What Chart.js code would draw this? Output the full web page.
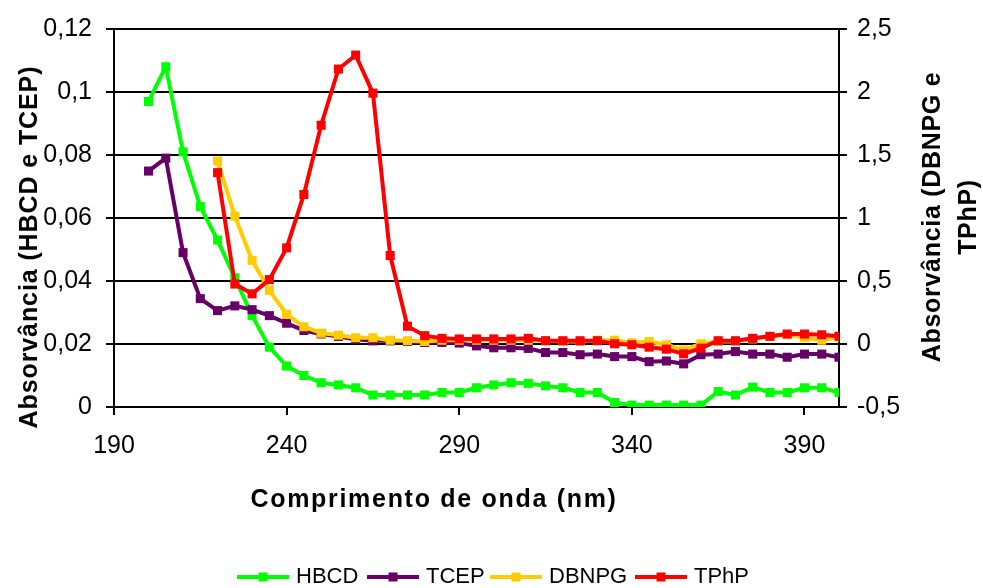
<!DOCTYPE html>
<html>
<head>
<meta charset="utf-8">
<title>Absorvância</title>
<script src="https://cdn.jsdelivr.net/npm/chart.js@4.4.1/dist/chart.umd.min.js"></script>
<style>
  html, body { margin: 0; padding: 0; background: #ffffff; }
  canvas { display: block; }
</style>
</head>
<body>
<canvas id="grafico" width="983" height="588"></canvas>
<script>
// Wavelengths (nm)
const comprimentos = [200,205,210,215,220,225,230,235,240,245,250,255,260,265,270,275,280,285,290,295,300,305,310,315,320,325,330,335,340,345,350,355,360,365,370,375,380,385,390,395,400];
const comprimentosB = [220,225,230,235,240,245,250,255,260,265,270,275,280,285,290,295,300,305,310,315,320,325,330,335,340,345,350,355,360,365,370,375,380,385,390,395,400];

// Left axis series
const hbcd = [0.097,0.108,0.081,0.0636,0.053,0.041,0.029,0.019,0.013,0.010,0.0077,0.0070,0.0061,0.0038,0.0038,0.0038,0.0038,0.0046,0.0046,0.0061,0.0070,0.0077,0.0075,0.0067,0.0061,0.0046,0.0046,0.0014,0.0006,0.0006,0.0006,0.0006,0.0006,0.0049,0.0038,0.0063,0.0046,0.0046,0.0061,0.0061,0.0046];
const tcep = [0.0749,0.079,0.049,0.0344,0.0306,0.0321,0.0309,0.029,0.0266,0.0243,0.0232,0.0224,0.0215,0.021,0.021,0.0208,0.0205,0.0205,0.0203,0.0194,0.0188,0.0188,0.0186,0.0173,0.0173,0.0166,0.0168,0.016,0.016,0.0144,0.0146,0.0137,0.0166,0.0168,0.0176,0.0168,0.0168,0.0158,0.0168,0.0168,0.0158];

// Right axis series
const dbnpg = [1.452,1.015,0.664,0.426,0.236,0.137,0.086,0.07,0.05,0.05,0.03,0.026,0.02,0.03,0.03,0.03,0.03,0.03,0.03,0.025,0.02,0.02,0.03,0.03,0.01,0.02,-0.006,-0.047,0.002,0.02,0.02,0.04,0.06,0.075,0.05,0.03,0.055];
const tphp = [1.36,0.476,0.398,0.511,0.763,1.187,1.736,2.182,2.293,1.991,0.702,0.141,0.066,0.045,0.04,0.04,0.04,0.04,0.045,0.026,0.026,0.026,0.026,0.002,-0.006,-0.025,-0.041,-0.078,-0.033,0.026,0.026,0.045,0.061,0.079,0.079,0.073,0.061];

// Tick values
const ticksX = [190,240,290,340,390];
const ticksEsq = [0,0.02,0.04,0.06,0.08,0.1,0.12];
const ticksDir = [-0.5,0,0.5,1,1.5,2,2.5];

const nomes = ['HBCD','TCEP','DBNPG','TPhP'];
const cores = ['#00FF00','#660066','#FFCC00','#FF0000'];

const FONTE = '"Liberation Sans", Arial, Helvetica, sans-serif';

function pares(xs, ys) {
  return xs.map((x, i) => ({ x: x, y: ys[i] }));
}
function virgula(v) {
  return String(+v.toFixed(2)).replace('.', ',');
}

function serie(i, xs, ys, eixo, ordem) {
  return {
    label: nomes[i],
    data: pares(xs, ys),
    yAxisID: eixo,
    order: ordem,
    borderColor: cores[i],
    backgroundColor: cores[i],
    pointBackgroundColor: cores[i],
    pointBorderColor: cores[i],
    borderWidth: 4,
    pointStyle: 'rect',
    pointRadius: 6.4,
    pointBorderWidth: 0,
    tension: 0
  };
}

// Axis titles and legend drawn on top of the chart
const textosExtra = {
  id: 'textosExtra',
  afterDraw(chart) {
    const ctx = chart.ctx;
    ctx.save();
    ctx.fillStyle = '#000000';
    ctx.textBaseline = 'middle';
    ctx.textAlign = 'center';

    // x axis title
    ctx.font = 'bold 25px ' + FONTE;
    ctx.letterSpacing = '1.7px';
    ctx.fillText('Comprimento de onda (nm)', 434, 500);

    // left axis title
    ctx.letterSpacing = '0.9px';
    ctx.save();
    ctx.translate(30, 247);
    ctx.rotate(-Math.PI / 2);
    ctx.fillText('Absorvância (HBCD e TCEP)', 0, 0);
    ctx.restore();

    // right axis title, two lines
    ctx.letterSpacing = '0.7px';
    ctx.save();
    ctx.translate(933, 217);
    ctx.rotate(-Math.PI / 2);
    ctx.fillText('Absorvância (DBNPG e', 0, 0);
    ctx.fillText('TPhP)', 0, 36);
    ctx.restore();

    // legend
    ctx.letterSpacing = '0px';
    ctx.font = '22px ' + FONTE;
    ctx.textAlign = 'left';
    const inicios = [237, 367, 490, 635];
    const yL = 577;
    chart.data.datasets.forEach((ds, i) => {
      const x0 = inicios[i];
      ctx.strokeStyle = ds.borderColor;
      ctx.lineWidth = 4;
      ctx.beginPath();
      ctx.moveTo(x0, yL);
      ctx.lineTo(x0 + 52, yL);
      ctx.stroke();
      ctx.fillStyle = ds.borderColor;
      ctx.fillRect(x0 + 26 - 4.5, yL - 4.5, 9, 9);
      ctx.fillStyle = '#000000';
      ctx.fillText(ds.label, x0 + 59, yL);
    });
    ctx.restore();
  }
};

const grade = { color: '#000000', lineWidth: 2, tickLength: 8, drawTicks: true };
const borda = { color: '#000000', width: 2 };
const fonteTicks = { family: FONTE, size: 25 };

new Chart(document.getElementById('grafico'), {
  type: 'line',
  data: {
    datasets: [
      serie(0, comprimentos, hbcd, 'yEsq', 3),
      serie(1, comprimentos, tcep, 'yEsq', 2),
      serie(2, comprimentosB, dbnpg, 'yDir', 1),
      serie(3, comprimentosB, tphp, 'yDir', 0)
    ]
  },
  options: {
    responsive: false,
    animation: false,
    layout: { padding: { top: 29, left: 0, right: 0, bottom: 0 } },
    plugins: {
      legend: { display: false },
      tooltip: { enabled: false }
    },
    scales: {
      x: {
        type: 'linear',
        position: 'bottom',
        min: 190,
        max: 400,
        afterBuildTicks: s => { s.ticks = ticksX.map(v => ({ value: v })); },
        afterFit: s => { s.height = 181; },
        ticks: { font: fonteTicks, color: '#000000', padding: 16, maxRotation: 0, callback: v => String(v) },
        grid: Object.assign({}, grade, { drawOnChartArea: false }),
        border: borda
      },
      yEsq: {
        type: 'linear',
        position: 'left',
        min: 0,
        max: 0.12,
        afterBuildTicks: s => { s.ticks = ticksEsq.map(v => ({ value: v })); },
        afterFit: s => { s.width = 114; },
        ticks: { font: fonteTicks, color: '#000000', padding: 14, callback: v => virgula(v) },
        grid: Object.assign({}, grade, { drawOnChartArea: true }),
        border: borda
      },
      yDir: {
        type: 'linear',
        position: 'right',
        min: -0.5,
        max: 2.5,
        afterBuildTicks: s => { s.ticks = ticksDir.map(v => ({ value: v })); },
        afterFit: s => { s.width = 144; },
        ticks: { font: fonteTicks, color: '#000000', padding: 10, callback: v => virgula(v) },
        grid: Object.assign({}, grade, { drawOnChartArea: false }),
        border: borda
      }
    }
  },
  plugins: [textosExtra]
});
</script>
</body>
</html>
